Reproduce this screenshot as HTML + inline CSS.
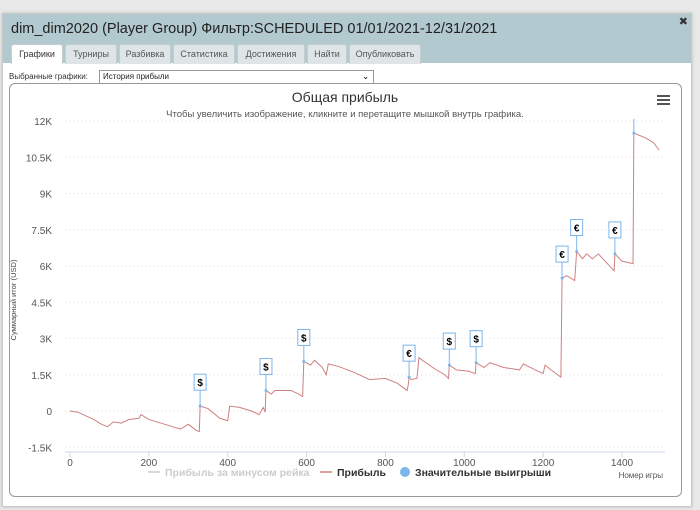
<!DOCTYPE html>
<html><head><meta charset="utf-8">
<style>
body{margin:0;width:700px;height:510px;background:#e9e9e9;font-family:"Liberation Sans","DejaVu Sans",sans-serif;overflow:hidden;position:relative}
#panel{position:absolute;left:2px;top:13px;width:688px;height:492px;background:#fff;border:1px solid #c9c9c9;box-shadow:0 0 3px #bbb}
#hdr{position:absolute;left:0;top:0;width:688px;height:49px;background:#b3c9d0}
#title{position:absolute;left:8px;top:7px;font-size:14.5px;color:#222}
#close{position:absolute;right:3px;top:1px;font-size:11px;font-weight:bold;color:#333}
.tab{position:absolute;top:30px;height:19px;background:#dfe5e7;border:1px solid #c5cfd2;border-bottom:none;font-size:9px;color:#555;text-align:center;line-height:19px;border-radius:3px 3px 0 0}
.tab.act{background:#fff;color:#333}
#sellbl{position:absolute;left:6px;top:58px;font-size:8px;color:#333}
#sel{position:absolute;left:96px;top:56px;width:270px;height:12px;border:1px solid #999;font-size:8px;line-height:12px;padding-left:3px;color:#222}
#chartbox{position:absolute;left:6px;top:69px;width:671px;height:412px;border:1px solid #999;border-radius:6px}
svg text{font-family:"Liberation Sans","DejaVu Sans",sans-serif}
</style></head><body>
<div id="panel">
<div id="hdr">
<div id="title">dim_dim2020 (Player Group) Фильтр:SCHEDULED 01/01/2021-12/31/2021</div>
<div id="close">✖</div>
<div class="tab act" style="left:8px;width:50px">Графики</div>
<div class="tab" style="left:62px;width:50px">Турниры</div>
<div class="tab" style="left:116px;width:50px">Разбивка</div>
<div class="tab" style="left:170px;width:60px">Статистика</div>
<div class="tab" style="left:234px;width:66px">Достижения</div>
<div class="tab" style="left:304px;width:38px">Найти</div>
<div class="tab" style="left:346px;width:70px">Опубликовать</div>
</div>
<div id="sellbl">Выбранные графики:</div>
<div id="sel">История прибыли<span style="position:absolute;right:4px;top:0;font-weight:bold">⌄</span></div>
<div id="chartbox"></div>
</div>
<svg id="chart" width="700" height="510" style="position:absolute;left:0;top:0">
<defs><clipPath id="plotclip"><rect x="60" y="119" width="610" height="340"/></clipPath></defs>
<text x="345" y="102" font-size="14" text-anchor="middle" fill="#333">Общая прибыль</text>
<text x="345" y="117" font-size="9.5" text-anchor="middle" fill="#555">Чтобы увеличить изображение, кликните и перетащите мышкой внутрь графика.</text>
<g><rect x="657" y="95" width="13" height="2" fill="#555"/><rect x="657" y="99" width="13" height="2" fill="#555"/><rect x="657" y="103" width="13" height="2" fill="#555"/></g>
<text transform="translate(16,300) rotate(-90)" font-size="7.5" text-anchor="middle" fill="#444">Суммарный итог (USD)</text>
<text x="663" y="478" font-size="8" text-anchor="end" fill="#555">Номер игры</text>
<g id="grid"></g><g id="axes"></g><g id="series"></g><g id="flags" clip-path="url(#plotclip)"></g>
<g>
<g><line x1="148" y1="472" x2="160" y2="472" stroke="#ccc" stroke-width="1.5"/><text x="165" y="476" font-size="10.5" font-weight="bold" fill="#ccc">Прибыль за минусом рейка</text></g>
<g><line x1="320" y1="472" x2="332" y2="472" stroke="#d08080" stroke-width="1.5"/><text x="337" y="476" font-size="10.5" font-weight="bold" fill="#333">Прибыль</text></g>
<g><circle cx="405" cy="472" r="5" fill="#7cb5ec"/><text x="415" y="476" font-size="10.5" font-weight="bold" fill="#333">Значительные выигрыши</text></g>
</g>
</svg>
<script>
const yTicks=[-1500,0,1500,3000,4500,6000,7500,9000,10500,12000];
const yTickLabels=["-1.5K","0","1.5K","3K","4.5K","6K","7.5K","9K","10.5K","12K"];
const xTicks=[0,200,400,600,800,1000,1200,1400];
const games=[0,20,40,60,80,95,110,130,150,175,180,200,230,260,280,300,320,328,330,350,380,400,405,430,460,480,490,495,497,510,520,560,580,590,593,610,620,640,650,655,680,720,760,800,830,855,858,860,865,880,885,920,950,960,962,980,1010,1028,1030,1050,1065,1100,1140,1150,1180,1200,1205,1220,1245,1248,1260,1280,1285,1300,1310,1325,1340,1380,1382,1400,1428,1430,1460,1480,1494];
const profit=[0,-50,-200,-350,-550,-650,-450,-500,-350,-300,-150,-350,-500,-650,-750,-550,-800,-850,200,100,-300,-400,200,150,0,-150,150,-50,850,700,850,850,700,600,2050,1900,2100,1800,1500,1950,1850,1600,1300,1350,1150,850,1100,1400,1300,1350,2200,1800,1500,1350,1900,1700,1650,1550,2000,1800,2000,1800,1700,1950,1700,1550,1900,1700,1400,5500,5600,5400,6600,6300,6500,6300,6500,5800,6500,6200,6100,11500,11300,11100,10800];
const flagGames=[330,497,593,860,962,1030,1248,1285,1382,1430];
const flagSymbols=["$","$","$","€","$","$","€","€","€",""];
const X=g=>70+g*(552/1400), Y=v=>411-v*(290/12000);
const NS="http://www.w3.org/2000/svg";
function mk(t,a,p){const e=document.createElementNS(NS,t);for(const k in a)e.setAttribute(k,a[k]);p.appendChild(e);return e;}
const grid=document.getElementById('grid'),axes=document.getElementById('axes'),ser=document.getElementById('series'),fl=document.getElementById('flags');
yTicks.forEach((v,i)=>{
 const l=mk('line',{x1:65,x2:663,y1:Y(v),y2:Y(v),stroke:'#ddd','stroke-dasharray':'1,3'},grid);
 
 
 const t=mk('text',{x:52,y:Y(v)+4,'font-size':10,'text-anchor':'end',fill:'#555'},axes);t.textContent=yTickLabels[i];
 
 
});
const ax=mk('line',{x1:65,x2:665,y1:452,y2:452,stroke:'#ccd6eb','stroke-width':1},axes);


xTicks.forEach(g=>{
 mk('line',{x1:X(g),x2:X(g),y1:452,y2:457,stroke:'#ccd6eb'},axes);
 const t=mk('text',{x:X(g),y:466,'font-size':10,'text-anchor':'middle',fill:'#555'},axes);t.textContent=g;
 
 
});
const pl=mk('polyline',{points:games.map((g,i)=>X(g)+','+Y(profit[i])).join(' '),fill:'none',stroke:'#d08080','stroke-width':1},ser);


flagGames.forEach((g,i)=>{
 const j=games.indexOf(g);const px=X(g),py=Y(profit[j]);
 const grp=mk('g',{},fl);
 
 
 const top=py-32;
 mk('line',{x1:px,x2:px,y1:top+16,y2:py,stroke:'#7cb5ec'},grp);
 mk('rect',{x:px-6,y:top,width:12,height:16,fill:'#fff',stroke:'#7cb5ec'},grp);
 mk('circle',{cx:px,cy:py,r:1.5,fill:'#7cb5ec'},grp);
 const t=mk('text',{x:px,y:top+12,'font-size':10,'font-weight':'bold','text-anchor':'middle',fill:'#000'},grp);t.textContent=flagSymbols[i];
});
</script>
</body></html>
